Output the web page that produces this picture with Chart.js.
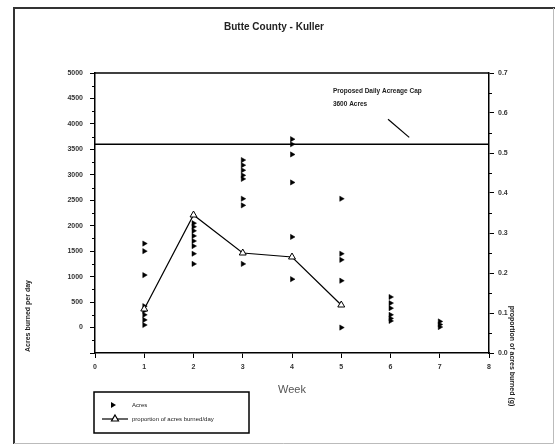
<!DOCTYPE html>
<html>
<head>
<meta charset="utf-8">
<script src="https://cdn.jsdelivr.net/npm/chart.js@4/dist/chart.umd.min.js"></script>
<style>
  html,body{margin:0;padding:0;background:#fff;}
  #wrap{width:555px;height:444px;position:relative;}
</style>
</head>
<body>
<div id="wrap"><canvas id="c" width="555" height="444"></canvas></div>
<script>
// ---- data ----
const titleText = "Butte County - Kuller";
const xTitle = "Week";
const leftTitle = "Acres burned per day";
const rightTitle = "proportion of acres burned (g)";
const weeks = [1, 2, 3, 4, 5, 6, 7];
const acresWeek1 = [1650, 1500, 1030, 420, 330, 250, 150, 50];
const acresWeek2 = [2050, 1980, 1900, 1800, 1700, 1600, 1450, 1250];
const acresWeek3 = [3290, 3190, 3090, 2990, 2920, 2530, 2400, 1250];
const acresWeek4 = [3700, 3600, 3400, 2850, 1780, 950];
const acresWeek5 = [2530, 1450, 1330, 920, 0];
const acresWeek6 = [600, 480, 380, 250, 180, 130];
const acresWeek7 = [120, 60, 10];
const proportionWeeks = [1, 2, 3, 4, 5];
const proportionValues = [0.11, 0.345, 0.25, 0.24, 0.12];
const capValue = 3600;
const capLabelLines = ["Proposed Daily Acreage Cap", "3600 Acres"];
const legendLabels = ["Acres", "proportion of acres burned/day"];
const xTicks = [0, 1, 2, 3, 4, 5, 6, 7, 8];
const leftTicks = [0, 500, 1000, 1500, 2000, 2500, 3000, 3500, 4000, 4500, 5000];
const rightTicks = [0, 0.1, 0.2, 0.3, 0.4, 0.5, 0.6, 0.7];

// ---- build datasets ----
const acresByWeek = [acresWeek1, acresWeek2, acresWeek3, acresWeek4, acresWeek5, acresWeek6, acresWeek7];
const acresPoints = [];
acresByWeek.forEach((arr, i) => arr.forEach(v => acresPoints.push({x: weeks[i], y: v})));
const propPoints = proportionWeeks.map((w, i) => ({x: w, y: proportionValues[i]}));
const capPoints = [{x: xTicks[0], y: capValue}, {x: xTicks[xTicks.length - 1], y: capValue}];

const FONT = "'Liberation Sans', Arial, sans-serif";

const decor = {
  id: 'decor',
  beforeDraw(chart) {
    const ctx = chart.ctx;
    ctx.save();
    ctx.fillStyle = '#fff';
    ctx.fillRect(0, 0, chart.width, chart.height);
    ctx.restore();
  },
  afterDraw(chart) {
    const ctx = chart.ctx;
    const a = chart.chartArea;
    const sx = chart.scales.x, sy = chart.scales.y, sy1 = chart.scales.y1;
    ctx.save();
    // outer frame
    ctx.strokeStyle = '#333';
    ctx.lineWidth = 2;
    ctx.beginPath();
    ctx.moveTo(14, 444); ctx.lineTo(14, 8); ctx.lineTo(555, 8);
    ctx.stroke();
    ctx.strokeStyle = '#bbb';
    ctx.lineWidth = 1;
    ctx.beginPath();
    ctx.moveTo(553.5, 8); ctx.lineTo(553.5, 443.5); ctx.lineTo(14, 443.5);
    ctx.stroke();
    // top border of plot
    ctx.strokeStyle = '#000';
    ctx.lineWidth = 1.5;
    ctx.beginPath();
    ctx.moveTo(a.left, a.top); ctx.lineTo(a.right, a.top);
    ctx.stroke();
    // minor ticks
    ctx.lineWidth = 1;
    ctx.beginPath();
    for (let v = -250; v < 5000; v += 500) {
      const p = Math.round(sy.getPixelForValue(v)) + 0.5;
      ctx.moveTo(a.left, p); ctx.lineTo(a.left - 3, p);
    }
    for (let v = 0.05; v < 0.7; v += 0.1) {
      const p = Math.round(sy1.getPixelForValue(v)) + 0.5;
      ctx.moveTo(a.right, p); ctx.lineTo(a.right + 3, p);
    }
    ctx.stroke();
    // title
    ctx.fillStyle = '#222';
    ctx.font = 'bold 10px ' + FONT;
    ctx.textAlign = 'center';
    ctx.textBaseline = 'middle';
    ctx.fillText(titleText, 274, 27);
    // x title
    ctx.fillStyle = '#555';
    ctx.font = '11px ' + FONT;
    ctx.fillText(xTitle, (a.left + a.right) / 2, 390);
    // left title
    ctx.fillStyle = '#222';
    ctx.font = 'bold 7px ' + FONT;
    ctx.save();
    ctx.translate(28, 316);
    ctx.rotate(-Math.PI / 2);
    ctx.fillText(leftTitle, 0, 0);
    ctx.restore();
    // right title
    ctx.save();
    ctx.translate(512, 356);
    ctx.rotate(Math.PI / 2);
    ctx.fillText(rightTitle, 0, 0);
    ctx.restore();
    // cap annotation
    ctx.fillStyle = '#222';
    ctx.font = 'bold 6.5px ' + FONT;
    ctx.textAlign = 'left';
    const tx = sx.getPixelForValue(4.83);
    ctx.fillText(capLabelLines[0], tx, sy.getPixelForValue(4640));
    ctx.fillText(capLabelLines[1], tx, sy.getPixelForValue(4390));
    ctx.strokeStyle = '#000';
    ctx.lineWidth = 1.2;
    ctx.beginPath();
    ctx.moveTo(sx.getPixelForValue(5.95), sy.getPixelForValue(4090));
    ctx.lineTo(sx.getPixelForValue(6.38), sy.getPixelForValue(3735));
    ctx.stroke();
    // legend
    ctx.lineWidth = 1.5;
    ctx.strokeStyle = '#000';
    ctx.strokeRect(94, 392, 155, 41);
    // entry 1: right triangle
    ctx.fillStyle = '#000';
    ctx.beginPath();
    ctx.moveTo(111, 402); ctx.lineTo(116, 405); ctx.lineTo(111, 408); ctx.closePath();
    ctx.fill();
    // entry 2: line with open triangle
    ctx.lineWidth = 1.2;
    ctx.beginPath();
    ctx.moveTo(102, 419); ctx.lineTo(128, 419);
    ctx.stroke();
    ctx.fillStyle = '#fff';
    ctx.beginPath();
    ctx.moveTo(115, 415); ctx.lineTo(118.5, 421); ctx.lineTo(111.5, 421); ctx.closePath();
    ctx.fill(); ctx.stroke();
    ctx.fillStyle = '#222';
    ctx.font = '6px ' + FONT;
    ctx.textAlign = 'left';
    ctx.fillText(legendLabels[0], 132, 405);
    ctx.fillText(legendLabels[1], 132, 419);
    ctx.restore();
  }
};

const axisCommon = {
  grid: {display: true, drawOnChartArea: false, drawTicks: true, tickLength: 5, color: '#000', lineWidth: 1},
  border: {display: true, color: '#000', width: 1.5},
};

new Chart(document.getElementById('c'), {
  type: 'scatter',
  data: {
    datasets: [
      {
        label: 'cap', type: 'line', data: capPoints, yAxisID: 'y',
        borderColor: '#000', borderWidth: 1.5, pointRadius: 0, fill: false
      },
      {
        label: legendLabels[1], type: 'line', data: propPoints, yAxisID: 'y1',
        borderColor: '#000', borderWidth: 1.2, fill: false, tension: 0,
        pointStyle: 'triangle', pointRadius: 4, pointBackgroundColor: '#fff',
        pointBorderColor: '#000', pointBorderWidth: 1
      },
      {
        label: legendLabels[0], data: acresPoints, yAxisID: 'y',
        pointStyle: 'triangle', rotation: 90, pointRadius: 3,
        backgroundColor: '#000', borderColor: '#000', borderWidth: 0.5
      }
    ]
  },
  options: {
    responsive: false,
    animation: false,
    devicePixelRatio: 1,
    layout: {padding: {left: 13, right: 10, top: 73, bottom: 0}},
    plugins: {legend: {display: false}, title: {display: false}, tooltip: {enabled: false}},
    scales: {
      x: Object.assign({}, axisCommon, {
        type: 'linear', min: xTicks[0], max: xTicks[xTicks.length - 1],
        afterBuildTicks: s => { s.ticks = xTicks.map(v => ({value: v})); },
        afterFit: s => { s.height = 91; },
        ticks: {autoSkip: false, maxRotation: 0, padding: 5, color: '#333', font: {family: FONT, size: 7, weight: 'bold'}}
      }),
      y: Object.assign({}, axisCommon, {
        type: 'linear', position: 'left', min: -500, max: 5000,
        afterBuildTicks: s => { s.ticks = [-500].concat(leftTicks).map(v => ({value: v})); },
        afterFit: s => { s.width = 82; },
        ticks: {autoSkip: false, padding: 7, color: '#333', font: {family: FONT, size: 7, weight: 'bold'},
          callback: v => (v < 0 ? '' : String(v))}
      }),
      y1: Object.assign({}, axisCommon, {
        type: 'linear', position: 'right', min: 0, max: 0.7,
        afterBuildTicks: s => { s.ticks = rightTicks.map(v => ({value: v})); },
        afterFit: s => { s.width = 56; },
        ticks: {autoSkip: false, padding: 4, color: '#333', font: {family: FONT, size: 7, weight: 'bold'},
          callback: v => Number(v).toFixed(1)}
      })
    }
  },
  plugins: [decor]
});
</script>
</body>
</html>
